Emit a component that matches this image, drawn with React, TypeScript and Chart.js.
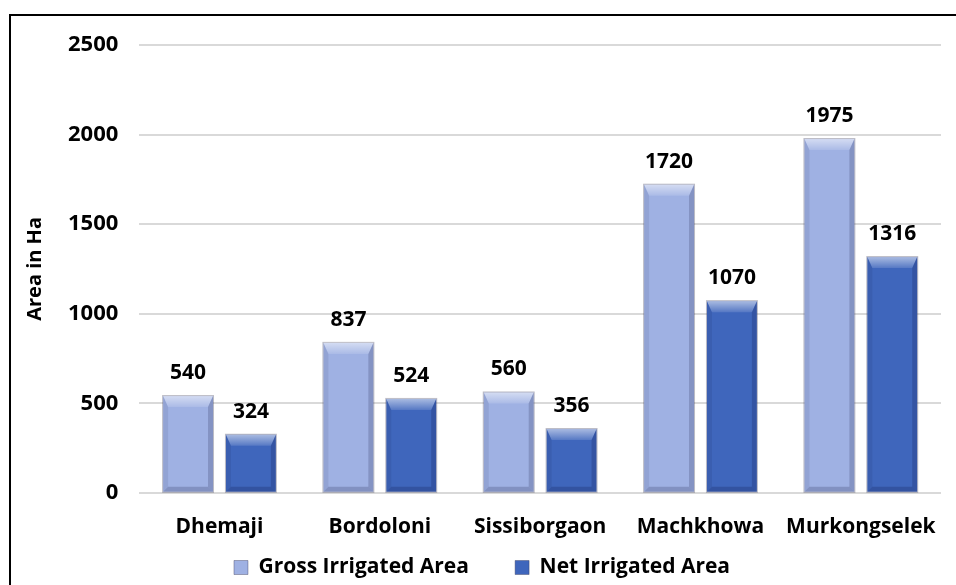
import React, { useEffect, useRef } from "react";
import { Chart, registerables } from "chart.js";

Chart.register(...registerables);

const categories = ["Dhemaji", "Bordoloni", "Sissiborgaon", "Machkhowa", "Murkongselek"];
const grossIrrigated = [540, 837, 560, 1720, 1975];
const netIrrigated = [324, 524, 356, 1070, 1316];
const seriesNames = ["Gross Irrigated Area", "Net Irrigated Area"];
const yTitle = "Area in Ha";

const FONT = "'Open Sans', 'Liberation Sans', sans-serif";
const SERIES_COLORS = ["#9FB1E3", "#3F66BC"];

const framePlugin = {
  id: "frame",
  beforeDraw(chart: any) {
    const ctx = chart.ctx;
    ctx.save();
    ctx.fillStyle = "#ffffff";
    ctx.fillRect(0, 0, chart.width, chart.height);
    ctx.strokeStyle = "#000000";
    ctx.lineWidth = 2;
    ctx.strokeRect(10, 15, 1200, 1200);
    ctx.restore();
  },
};

const bevelPlugin = {
  id: "bevel",
  afterDatasetsDraw(chart: any) {
    const ctx = chart.ctx;
    ctx.save();
    chart.data.datasets.forEach((ds: any, di: number) => {
      const meta = chart.getDatasetMeta(di);
      meta.data.forEach((bar: any, i: number) => {
        const w = bar.width;
        const l = bar.x - w / 2;
        const r = bar.x + w / 2;
        const t = bar.y;
        const b = bar.base;
        const tb = 11;
        const sb = 5;
        const g = ctx.createLinearGradient(0, t, 0, t + tb);
        g.addColorStop(0, "rgba(255,255,255,0.55)");
        g.addColorStop(1, "rgba(255,255,255,0.12)");
        ctx.fillStyle = g;
        ctx.beginPath();
        ctx.moveTo(l, t);
        ctx.lineTo(r, t);
        ctx.lineTo(r - sb, t + tb);
        ctx.lineTo(l + sb, t + tb);
        ctx.closePath();
        ctx.fill();
        ctx.fillStyle = "rgba(0,0,40,0.08)";
        ctx.beginPath();
        ctx.moveTo(l, t);
        ctx.lineTo(l + sb, t + tb);
        ctx.lineTo(l + sb, b - sb);
        ctx.lineTo(l, b);
        ctx.closePath();
        ctx.fill();
        ctx.fillStyle = "rgba(0,0,40,0.17)";
        ctx.beginPath();
        ctx.moveTo(r, t);
        ctx.lineTo(r - sb, t + tb);
        ctx.lineTo(r - sb, b - sb);
        ctx.lineTo(r, b);
        ctx.closePath();
        ctx.fill();
        ctx.fillStyle = "rgba(0,0,40,0.18)";
        ctx.beginPath();
        ctx.moveTo(l, b);
        ctx.lineTo(l + sb, b - sb);
        ctx.lineTo(r - sb, b - sb);
        ctx.lineTo(r, b);
        ctx.closePath();
        ctx.fill();
        ctx.strokeStyle = "rgba(60,60,90,0.35)";
        ctx.lineWidth = 1;
        ctx.strokeRect(l - 0.5, t - 0.5, w + 1, b - t + 1);
        ctx.fillStyle = "#000000";
        ctx.font = `bold 21px ${FONT}`;
        ctx.textAlign = "center";
        ctx.textBaseline = "alphabetic";
        ctx.fillText(String(ds.data[i]), bar.x, t - 17);
      });
    });
    ctx.restore();
  },
};

export default function App() {
  const canvasRef = useRef<HTMLCanvasElement | null>(null);

  useEffect(() => {
    if (!canvasRef.current) return;
    const chart = new Chart(canvasRef.current, {
      type: "bar",
      data: {
        labels: categories,
        datasets: [
          {
            label: seriesNames[0],
            data: grossIrrigated,
            backgroundColor: SERIES_COLORS[0],
            borderWidth: 0,
            barPercentage: 0.794,
            categoryPercentage: 0.784,
          },
          {
            label: seriesNames[1],
            data: netIrrigated,
            backgroundColor: SERIES_COLORS[1],
            borderWidth: 0,
            barPercentage: 0.794,
            categoryPercentage: 0.784,
          },
        ],
      },
      options: {
        animation: false,
        responsive: true,
        maintainAspectRatio: false,
        layout: { padding: { left: 23, right: 15, top: 45, bottom: 4 } },
        plugins: {
          tooltip: { enabled: false },
          legend: {
            position: "bottom",
            labels: {
              boxWidth: 14,
              boxHeight: 14,
              padding: 8,
              color: "#000000",
              font: { family: FONT, size: 21, weight: "bold" },
              generateLabels: (chart: any) =>
                chart.data.datasets.map((ds: any, i: number) => ({
                  text: i === 0 ? ds.label + "\u00A0\u00A0\u00A0\u00A0\u00A0\u00A0\u00A0" : ds.label,
                  fillStyle: SERIES_COLORS[i],
                  strokeStyle: "rgba(60,60,90,0.4)",
                  lineWidth: 1,
                  fontColor: "#000000",
                  hidden: false,
                  datasetIndex: i,
                })),
            },
          },
        },
        scales: {
          x: {
            grid: { display: false },
            border: { display: false },
            afterFit: (scale: any) => {
              scale.height -= 5;
            },
            ticks: {
              color: "#000000",
              padding: 14,
              font: { family: FONT, size: 21, weight: "bold" },
              maxRotation: 0,
              autoSkip: false,
            },
          },
          y: {
            min: 0,
            max: 2500,
            border: { display: false },
            grid: { color: "#D9D9D9", lineWidth: 2, drawTicks: false },
            ticks: {
              stepSize: 500,
              color: "#000000",
              padding: 21,
              font: { family: FONT, size: 22, weight: "bold" },
              callback: (v: any) => String(v),
            },
            title: {
              display: true,
              text: yTitle,
              color: "#000000",
              padding: 0,
              font: { family: FONT, size: 20, weight: "bold" },
            },
          },
        },
      },
      plugins: [framePlugin, bevelPlugin],
    });
    return () => chart.destroy();
  }, []);

  return (
    <div style={{ position: "absolute", left: 0, top: 0, width: 956, height: 592 }}>
      <canvas ref={canvasRef} />
    </div>
  );
}
